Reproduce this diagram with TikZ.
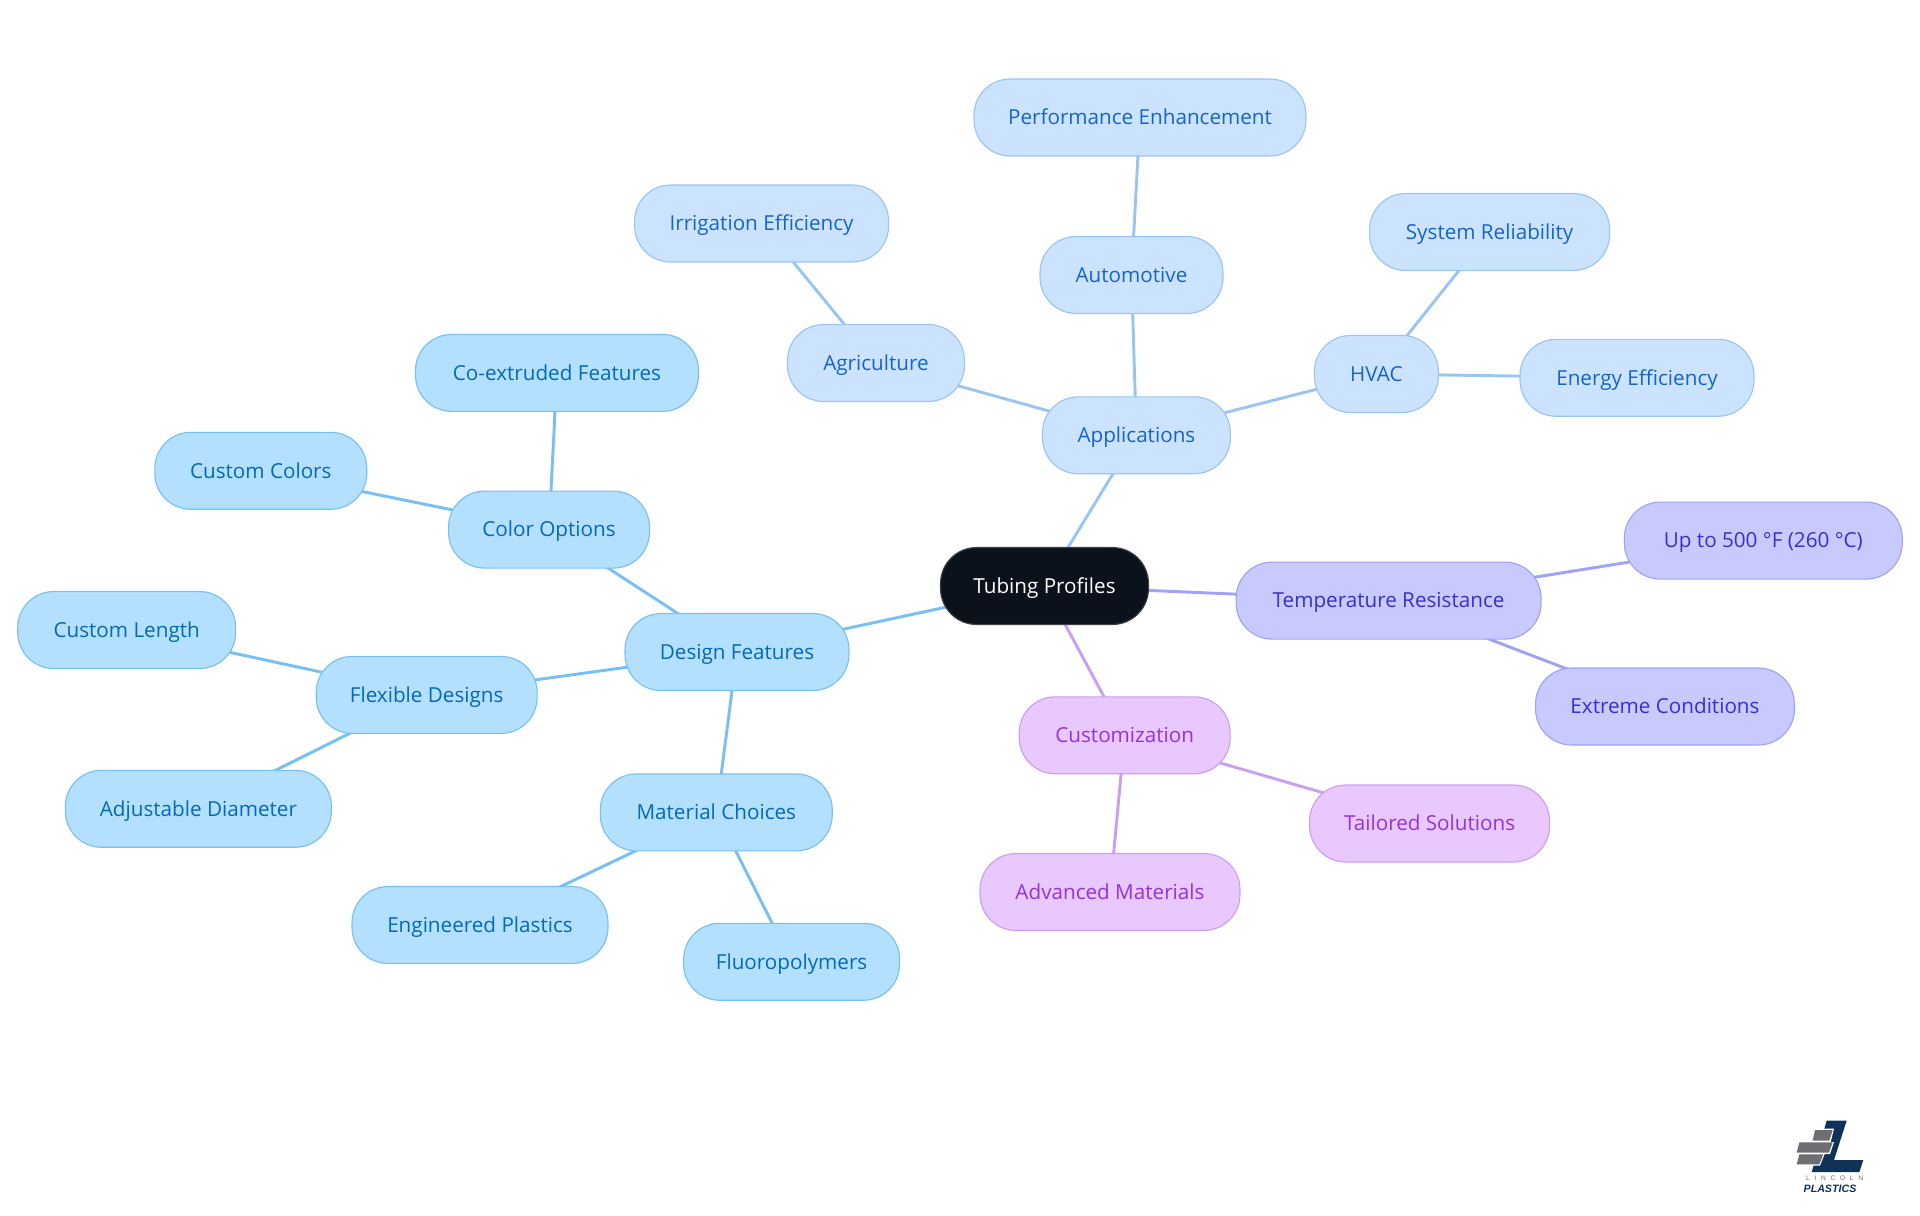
\documentclass[tikz,border=0pt]{standalone}
\usepackage{fontspec}
\setmainfont{Open Sans}
\newfontfamily\logofont{Liberation Sans}
\usetikzlibrary{backgrounds}
\definecolor{hubfill}{HTML}{0B121B}
\definecolor{skyfill}{HTML}{B4E0FF}
\definecolor{skyline}{HTML}{78C0F3}
\definecolor{skytext}{HTML}{0369B8}
\definecolor{appfill}{HTML}{CCE3FF}
\definecolor{appline}{HTML}{9AC4F2}
\definecolor{apptext}{HTML}{1565C8}
\definecolor{tempfill}{HTML}{C8CAFD}
\definecolor{templine}{HTML}{A0A2F5}
\definecolor{temptext}{HTML}{3730D0}
\definecolor{custfill}{HTML}{E8C8FF}
\definecolor{custline}{HTML}{CA9FF2}
\definecolor{custtext}{HTML}{9333DD}
\definecolor{logoblue}{HTML}{0F3358}
\definecolor{logogray}{HTML}{6E6E72}
\begin{document}
\begin{tikzpicture}[
    x=0.75pt,y=-0.75pt,
    every node/.style={font=\fontsize{15.5}{18}\selectfont},
    wd/.style={minimum width=#1*0.75pt-0.8pt},
    box/.style={rounded corners=27pt, minimum height=57.7pt, line width=0.85pt, inner sep=0pt, text height=13pt, text depth=2pt},
    hub/.style={box, draw=hubfill!80!white, fill=hubfill, text=white},
    skybox/.style={box, draw=skyline, fill=skyfill, text=skytext},
    appbox/.style={box, draw=appline, fill=appfill, text=apptext},
    tempbox/.style={box, draw=templine, fill=tempfill, text=temptext},
    custbox/.style={box, draw=custline, fill=custfill, text=custtext},
    link/.style={line width=2.2pt}
]
    \useasboundingbox (0,0) rectangle (1920,1215);

    \node[hub, wd=209] (tubing) at (1044.5,586) {Tubing Profiles};

    \node[appbox, wd=189] (applications) at (1136.4,435.3) {Applications};
    \node[appbox, wd=178] (agriculture) at (876,363) {Agriculture};
    \node[appbox, wd=255] (irrigation) at (761.6,223.5) {Irrigation Efficiency};
    \node[appbox, wd=184] (automotive) at (1131.5,275) {Automotive};
    \node[appbox, wd=333] (performance) at (1140,117.5) {Performance Enhancement};
    \node[appbox, wd=125] (hvac) at (1376.4,374) {HVAC};
    \node[appbox, wd=241] (reliability) at (1489.6,232) {System Reliability};
    \node[appbox, wd=235] (energy) at (1637,377.8) {Energy Efficiency};

    \node[tempbox, wd=306] (temperature) at (1388.6,600.6) {Temperature Resistance};
    \node[tempbox, wd=279] (upto) at (1763.3,540.6) {Up to 500 °F (260 °C)};
    \node[tempbox, wd=260] (extreme) at (1665,706.5) {Extreme Conditions};

    \node[custbox, wd=212] (customization) at (1124.7,735.3) {Customization};
    \node[custbox, wd=241] (tailored) at (1429.6,823.5) {Tailored Solutions};
    \node[custbox, wd=261] (advanced) at (1110,892) {Advanced Materials};

    \node[skybox, wd=225] (design) at (737,652) {Design Features};
    \node[skybox, wd=202] (coloroptions) at (549,529.6) {Color Options};
    \node[skybox, wd=284] (coextruded) at (557,372.9) {Co-extruded Features};
    \node[skybox, wd=213] (customcolors) at (260.8,470.8) {Custom Colors};
    \node[skybox, wd=222] (flexible) at (426.7,694.9) {Flexible Designs};
    \node[skybox, wd=219] (customlength) at (126.7,630) {Custom Length};
    \node[skybox, wd=267] (adjustable) at (198.4,808.8) {Adjustable Diameter};
    \node[skybox, wd=233] (material) at (716.3,812.4) {Material Choices};
    \node[skybox, wd=257] (engineered) at (480,925) {Engineered Plastics};
    \node[skybox, wd=217] (fluoro) at (791.6,961.8) {Fluoropolymers};

    \begin{pgfonlayer}{background}
        \foreach \from/\to in {tubing/applications,applications/agriculture,agriculture/irrigation,applications/automotive,automotive/performance,applications/hvac,hvac/reliability,hvac/energy} {
            \draw[link, appline] (\from.center) -- (\to.center);
        }
        \foreach \from/\to in {tubing/temperature,temperature/upto,temperature/extreme} {
            \draw[link, templine] (\from.center) -- (\to.center);
        }
        \foreach \from/\to in {tubing/customization,customization/tailored,customization/advanced} {
            \draw[link, custline] (\from.center) -- (\to.center);
        }
        \foreach \from/\to in {tubing/design,design/coloroptions,coloroptions/coextruded,coloroptions/customcolors,design/flexible,flexible/customlength,flexible/adjustable,design/material,material/engineered,material/fluoro} {
            \draw[link, skyline] (\from.center) -- (\to.center);
        }
    \end{pgfonlayer}

    % logo
    \begin{scope}[shift={(1760,1100)},x=0.25pt,y=-0.25pt]
        \fill[logoblue] (200,62) -- (260,62) -- (222,180) -- (310,180) -- (298,216) -- (155,216) -- cycle;
        \fill[white] (160,86) -- (222,86) -- (212,126) -- (222,126) -- (210,162) -- (194,162) -- (180,197) -- (106,197) -- (116,124) -- (156,124) -- cycle;
        \fill[logogray] (165,90) -- (218,90) -- (208,122) -- (158,122) -- cycle;
        \fill[logogray] (118,127) -- (218,127) -- (207,158) -- (110,158) -- cycle;
        \fill[logogray] (118,163) -- (190,163) -- (178,193) -- (110,193) -- cycle;
        \node[font=\logofont\fontsize{5}{6}\selectfont\addfontfeature{LetterSpace=70}, text=logogray, inner sep=0pt] (lincoln) at (224,236) {LINCOLN};
        \node[font=\logofont\bfseries\itshape\fontsize{8}{9}\selectfont, text=logoblue, inner sep=0pt] (plastics) at (210,266) {PLASTICS};
    \end{scope}
\end{tikzpicture}
\end{document}
